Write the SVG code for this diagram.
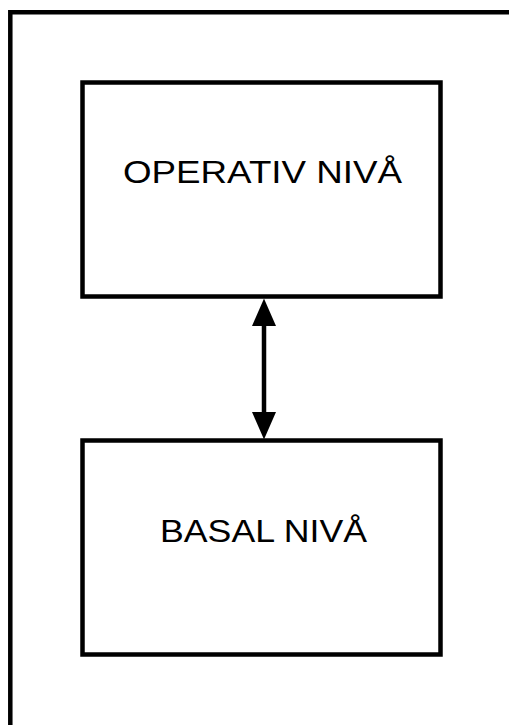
<svg xmlns="http://www.w3.org/2000/svg" width="509" height="725" viewBox="0 0 509 725">
  <style>
    .frame { fill: none; stroke: #000; stroke-width: 4.5; }
    .box { fill: #fff; stroke: #000; stroke-width: 4.5; }
    .label { font-family: "Liberation Sans", Arial, sans-serif; font-size: 32px; fill: #000; text-anchor: middle; }
    .conn { stroke: #000; stroke-width: 4.5; fill: none; }
  </style>
  <defs>
    <marker id="head" markerUnits="userSpaceOnUse" markerWidth="28" markerHeight="26" refX="0" refY="12" orient="auto-start-reverse" viewBox="0 0 28 24">
      <path d="M0,0 L27.5,12 L0,24 z" fill="#000"/>
    </marker>
  </defs>
  <rect width="509" height="725" fill="#fff"/>
  <g id="frame">
    <path class="frame" d="M10.3,725 L10.3,12.3 L509,12.3"/>
  </g>
  <g id="node-operativ">
    <rect class="box" x="82.5" y="82.5" width="358" height="214"/>
    <text class="label" x="262.5" y="183" textLength="279" lengthAdjust="spacingAndGlyphs">OPERATIV NIVÅ</text>
  </g>
  <g id="node-basal">
    <rect class="box" x="82.5" y="440.5" width="358" height="214"/>
    <text class="label" x="263.5" y="542" textLength="207" lengthAdjust="spacingAndGlyphs">BASAL NIVÅ</text>
  </g>
  <g id="connectors">
    <line class="conn" x1="264" y1="326" x2="264" y2="412" marker-start="url(#head)" marker-end="url(#head)"/>
  </g>
</svg>
